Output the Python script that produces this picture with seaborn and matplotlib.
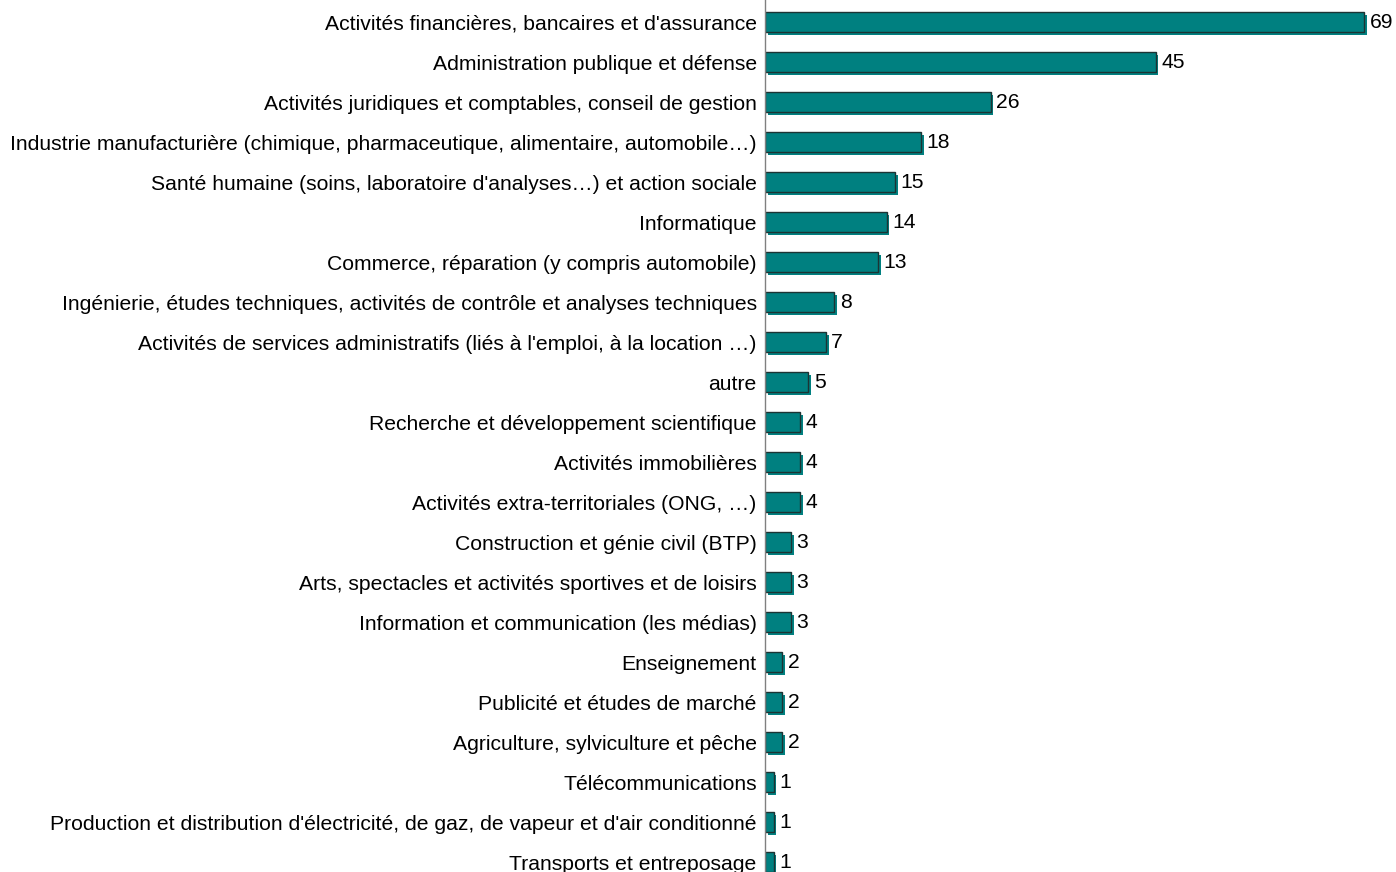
import matplotlib
matplotlib.use("Agg")
import matplotlib.pyplot as plt
import matplotlib.patheffects as pe
import seaborn as sns
import pandas as pd

sectors = [
    "Activités financières, bancaires et d'assurance",
    "Administration publique et défense",
    "Activités juridiques et comptables, conseil de gestion",
    "Industrie manufacturière (chimique, pharmaceutique, alimentaire, automobile…)",
    "Santé humaine (soins, laboratoire d'analyses…) et action sociale",
    "Informatique",
    "Commerce, réparation (y compris automobile)",
    "Ingénierie, études techniques, activités de contrôle et analyses techniques",
    "Activités de services administratifs (liés à l'emploi, à la location …)",
    "autre",
    "Recherche et développement scientifique",
    "Activités immobilières",
    "Activités extra-territoriales (ONG, …)",
    "Construction et génie civil (BTP)",
    "Arts, spectacles et activités sportives et de loisirs",
    "Information et communication (les médias)",
    "Enseignement",
    "Publicité et études de marché",
    "Agriculture, sylviculture et pêche",
    "Télécommunications",
    "Production et distribution d'électricité, de gaz, de vapeur et d'air conditionné",
    "Transports et entreposage",
]
counts = [69, 45, 26, 18, 15, 14, 13, 8, 7, 5, 4, 4, 4, 3, 3, 3, 2, 2, 2, 1, 1, 1]

df = pd.DataFrame({"secteur": sectors, "n": counts})

sns.set_style("white")
plt.rcParams['font.family'] = ['Liberation Sans', 'DejaVu Sans']

fig = plt.figure(figsize=(13.96, 8.72), dpi=100)
ax = fig.add_axes([0.548, 0.0, 0.452, 1.0])

sns.barplot(data=df, x="n", y="secteur", orient="h", color="#008080",
            saturation=1, width=0.5, edgecolor="#1c3434", linewidth=1, ax=ax)

# small teal drop shadow like the original chart
for bar in ax.patches:
    bar.set_path_effects([
        pe.SimplePatchShadow(offset=(2, -2), shadow_rgbFace="#008080", alpha=1),
        pe.Normal(),
    ])

labels = ax.bar_label(ax.containers[0], padding=4, fontsize=15.2, color="black")
for t in labels:
    t.set_va("center")

ax.set_xlim(0, 72.7)
ax.set_ylim(21.25, -0.55)
ax.set_xlabel("")
ax.set_ylabel("")
ax.set_xticks([])
ax.tick_params(axis="y", length=0, pad=6, labelsize=15.2, labelcolor="black")
for s in ["top", "right", "bottom"]:
    ax.spines[s].set_visible(False)
ax.spines["left"].set_color("#808080")
ax.spines["left"].set_linewidth(1)

plt.savefig("out.png", dpi=100)
